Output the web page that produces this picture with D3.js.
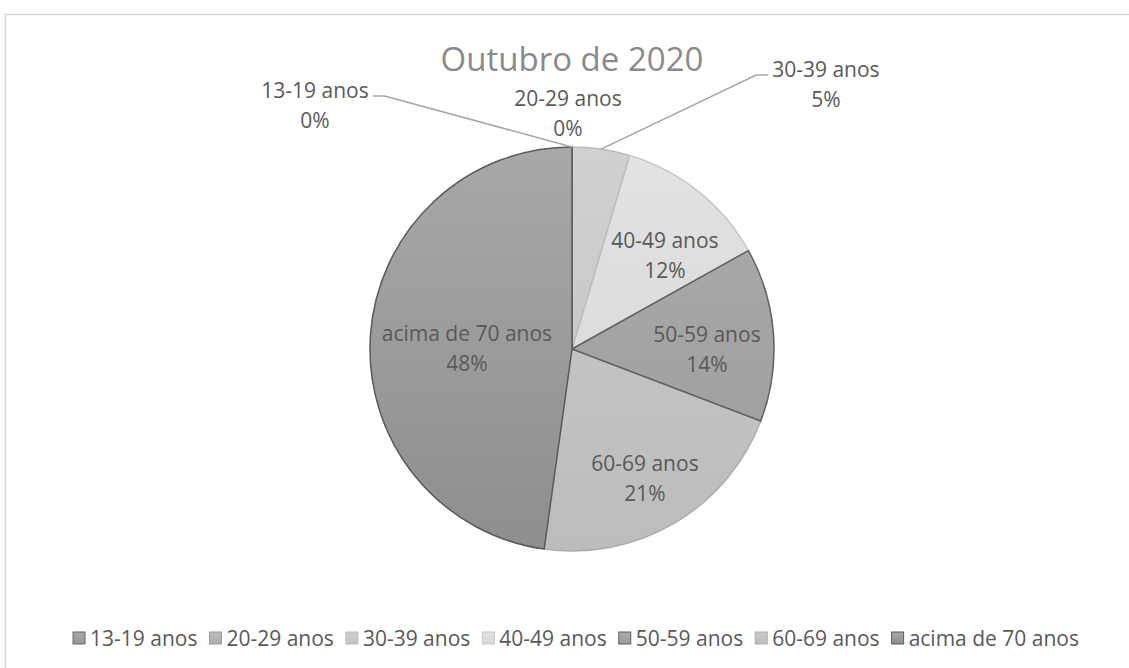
<!DOCTYPE html>
<html>
<head>
<meta charset="utf-8">
<script src="https://cdn.jsdelivr.net/npm/d3@7"></script>
<style>
  body { margin: 0; background: #fff; }
  svg { display: block; font-family: 'Open Sans', sans-serif; }
</style>
</head>
<body>
<div id="chart"></div>
<script>
const categories = ['13-19 anos', '20-29 anos', '30-39 anos', '40-49 anos', '50-59 anos', '60-69 anos', 'acima de 70 anos']
const values = [0, 0, 4.6, 12.3, 13.9, 21.4, 47.8]
const title = 'Outubro de 2020'

// label centres, offsets from the pie centre in radius units
const labelOffsets = [[-1.272, -1.208], [-0.020, -1.168], [1.257, -1.312], [0.460, -0.465], [0.668, 0], [0.361, 0.639], [-0.520, -0.005]]
const leaderLabels = [0, 2]

const fillTop = ['#a8a8a8', '#bdbdbd', '#d0d0d0', '#e2e2e2', '#ababab', '#cacaca', '#a8a8a8']
const fillBottom = ['#979797', '#acacac', '#c2c2c2', '#d6d6d6', '#9c9c9c', '#bcbcbc', '#8e8e8e']
const strokes = ['#6b6b6b', '#9a9a9a', '#bcbcbc', '#c6c6c6', '#606060', '#adadad', '#5a5a5a']

const width = 1129, height = 668
const cx = 572, cy = 349, radius = 202
const labelSize = 21, lineGap = 15

const svg = d3.select('#chart').append('svg')
  .attr('width', width)
  .attr('height', height)

svg.append('rect')
  .attr('x', 5.5).attr('y', 14.5)
  .attr('width', 1140).attr('height', 700)
  .attr('fill', '#fff')
  .attr('stroke', '#d9d9d9')
  .attr('stroke-width', 1.5)

const defs = svg.append('defs')
categories.forEach((c, i) => {
  const g = defs.append('linearGradient')
    .attr('id', 'grad' + i)
    .attr('gradientUnits', 'userSpaceOnUse')
    .attr('x1', 0).attr('x2', 0)
    .attr('y1', -radius).attr('y2', radius)
  g.append('stop').attr('offset', '0%').attr('stop-color', fillTop[i])
  g.append('stop').attr('offset', '100%').attr('stop-color', fillBottom[i])

  const lg = defs.append('linearGradient')
    .attr('id', 'lgrad' + i)
    .attr('x1', 0).attr('x2', 0).attr('y1', 0).attr('y2', 1)
  lg.append('stop').attr('offset', '0%').attr('stop-color', fillTop[i])
  lg.append('stop').attr('offset', '100%').attr('stop-color', fillBottom[i])
})

svg.append('text')
  .attr('x', 572).attr('y', 58)
  .attr('text-anchor', 'middle')
  .attr('dominant-baseline', 'central')
  .style('font-size', '33px')
  .style('fill', '#8a8a8a')
  .text(title)

const pie = d3.pie().sort(null).value(d => d)
const arcs = pie(values)
const arc = d3.arc().innerRadius(0).outerRadius(radius)
const total = d3.sum(values)

const pieG = svg.append('g')
  .attr('transform', 'translate(' + cx + ', ' + cy + ')')

// light borders first, dark ones on top
const order = d3.range(arcs.length).sort((a, b) => d3.descending(d3.hsl(strokes[a]).l, d3.hsl(strokes[b]).l))
pieG.selectAll('path')
  .data(order.map(i => ({ a: arcs[i], i: i })))
  .enter().append('path')
  .attr('d', d => arc(d.a))
  .attr('fill', d => 'url(#grad' + d.i + ')')
  .attr('stroke', d => strokes[d.i])
  .attr('stroke-width', 1.5)
  .attr('stroke-linejoin', 'round')

const labels = svg.append('g').selectAll('text')
  .data(arcs)
  .enter().append('text')
  .attr('text-anchor', 'middle')
  .style('font-size', labelSize + 'px')
  .style('fill', '#595959')
labels.append('tspan')
  .attr('x', (d, i) => cx + labelOffsets[i][0] * radius)
  .attr('y', (d, i) => cy + labelOffsets[i][1] * radius - lineGap)
  .attr('dominant-baseline', 'central')
  .text((d, i) => categories[i])
labels.append('tspan')
  .attr('x', (d, i) => cx + labelOffsets[i][0] * radius)
  .attr('y', (d, i) => cy + labelOffsets[i][1] * radius + lineGap)
  .attr('dominant-baseline', 'central')
  .text(d => Math.round(d.value / total * 100) + '%')

// leader lines for the labels that sit outside the pie
leaderLabels.forEach(i => {
  const a = (arcs[i].startAngle + arcs[i].endAngle) / 2
  const px = cx + radius * Math.sin(a), py = cy - radius * Math.cos(a)
  const lx = cx + labelOffsets[i][0] * radius, ly = cy + labelOffsets[i][1] * radius
  const side = labelOffsets[i][0] < 0 ? 1 : -1
  const half = labels.filter((d, j) => j === i).select('tspan').node().getComputedTextLength() / 2
  const ex = lx + side * (half + 4), ey = ly - lineGap + 6
  svg.append('path')
    .attr('d', d3.line()([[ex, ey], [ex + side * 12, ey], [px, py]]))
    .attr('fill', 'none')
    .attr('stroke', '#a6a6a6')
    .attr('stroke-width', 1.5)
})

// legend
const legend = svg.append('g').classed('legend', true)
const items = legend.selectAll('g')
  .data(categories)
  .enter().append('g')
items.append('rect')
  .attr('width', 12).attr('height', 12)
  .attr('y', -6)
  .attr('fill', (d, i) => 'url(#lgrad' + i + ')')
  .attr('stroke', (d, i) => strokes[i])
  .attr('stroke-width', 1)
items.append('text')
  .attr('x', 17)
  .attr('dominant-baseline', 'central')
  .style('font-size', labelSize + 'px')
  .style('fill', '#595959')
  .text(d => d)

let xPos = 0
const gap = 12
items.each(function() {
  const w = 17 + d3.select(this).select('text').node().getComputedTextLength()
  d3.select(this).attr('transform', 'translate(' + xPos + ', 0)')
  xPos += w + gap
})
const legendWidth = xPos - gap
legend.attr('transform', 'translate(' + (576 - legendWidth / 2) + ', 638)')
</script>
</body>
</html>
